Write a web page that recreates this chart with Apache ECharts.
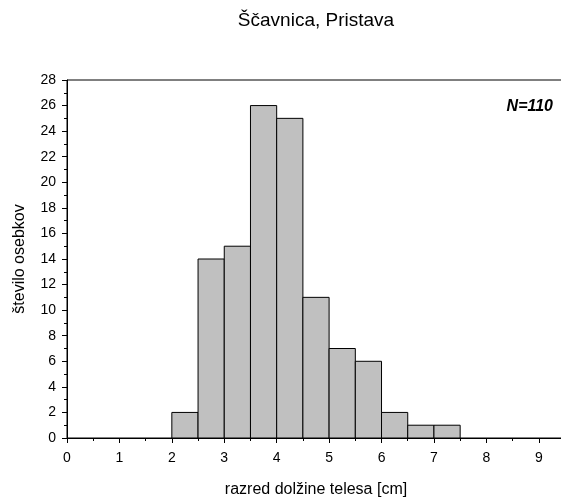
<!DOCTYPE html>
<html>
<head>
<meta charset="utf-8">
<script src="https://cdn.jsdelivr.net/npm/echarts@6/dist/echarts.min.js"></script>
<style>html,body{margin:0;padding:0;background:#fff}#c{width:561px;height:499px}</style>
</head>
<body>
<div id="c"></div>
<script>
var binStarts = [0, 0.5, 1, 1.5, 2, 2.5, 3, 3.5, 4, 4.5, 5, 5.5, 6, 6.5, 7, 7.5, 8, 8.5, 9];
var binWidth = 0.5;
var counts = [0, 0, 0, 0, 2, 14, 15, 26, 25, 11, 7, 6, 2, 1, 1, 0, 0, 0, 0];
var yTicks = [0, 2, 4, 6, 8, 10, 12, 14, 16, 18, 20, 22, 24, 26, 28];
var xTicks = [0, 1, 2, 3, 4, 5, 6, 7, 8, 9];

var font = 'Liberation Sans, Arial, sans-serif';
var data = binStarts.map(function (s, i) { return [s, s + binWidth, counts[i]]; });

var chart = echarts.init(document.getElementById('c'));
chart.setOption({
  animation: false,
  grid: {
    left: 67, top: 80, width: 498, height: 358,
    show: true, borderColor: '#000', borderWidth: 1,
    containLabel: false, outerBoundsMode: 'none'
  },
  xAxis: [{
    type: 'value', min: 0, max: 9.5, interval: 1,
    axisLine: { show: true, lineStyle: { color: '#000', width: 1 } },
    axisTick: { show: true, length: 5, lineStyle: { color: '#000' } },
    minorTick: { show: false },
    splitLine: { show: false },
    axisLabel: {
      margin: 13, color: '#000', fontFamily: font, fontSize: 14,
      formatter: function (v) { return xTicks.indexOf(v) >= 0 ? String(v) : ''; }
    },
    name: 'razred dolžine telesa [cm]', nameLocation: 'middle', nameGap: 44,
    nameTextStyle: { color: '#000', fontFamily: font, fontSize: 16 }
  }, {
    type: 'value', min: 0, max: 9.5, interval: 0.5, position: 'bottom',
    axisLine: { show: false },
    axisTick: { show: true, length: 3, lineStyle: { color: '#000' } },
    axisLabel: { show: false },
    splitLine: { show: false }
  }],
  yAxis: {
    type: 'value', min: 0, max: 28, interval: 2,
    axisLine: { show: true, lineStyle: { color: '#000', width: 1 } },
    axisTick: { show: true, length: 5, lineStyle: { color: '#000' } },
    minorTick: { show: true, splitNumber: 2, length: 3, lineStyle: { color: '#000' } },
    splitLine: { show: false },
    axisLabel: {
      margin: 11, color: '#000', fontFamily: font, fontSize: 14,
      formatter: function (v) { return yTicks.indexOf(v) >= 0 ? String(v) : ''; }
    },
    name: 'število osebkov', nameLocation: 'middle', nameGap: 39,
    nameTextStyle: { color: '#000', fontFamily: font, fontSize: 16 }
  },
  graphic: [{
    type: 'text', x: 316, y: 21,
    style: {
      text: 'Ščavnica, Pristava', fill: '#000', align: 'center', verticalAlign: 'middle',
      font: '19px Liberation Sans, Arial, sans-serif'
    }
  }, {
    type: 'text', right: 8, top: 99,
    style: { text: 'N=110', fill: '#000', font: 'italic bold 16px Liberation Sans, Arial, sans-serif' }
  }],
  series: [{
    type: 'custom',
    xAxisIndex: 0,
    data: data,
    renderItem: function (params, api) {
      var v = api.value(2);
      if (!v) return null;
      var p0 = api.coord([api.value(0), v]);
      var p1 = api.coord([api.value(1), 0]);
      return {
        type: 'rect',
        shape: { x: p0[0], y: p0[1], width: p1[0] - p0[0], height: p1[1] - p0[1] },
        style: { fill: '#c0c0c0', stroke: '#000', lineWidth: 1 }
      };
    }
  }]
});
</script>
</body>
</html>
